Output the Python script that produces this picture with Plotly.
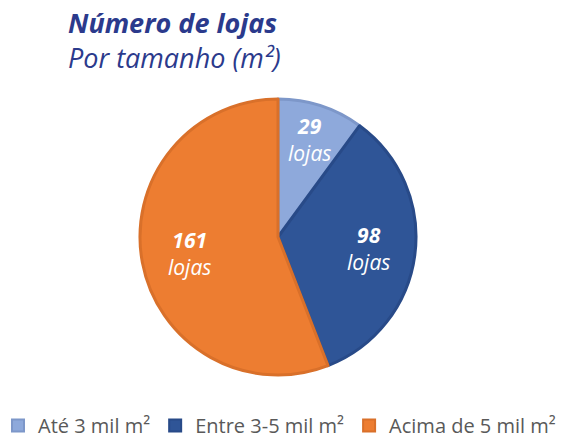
import math
import plotly.graph_objects as go

categories = ["Até 3 mil m²", "Entre 3-5 mil m²", "Acima de 5 mil m²"]
values = [29, 98, 161]
colors = ["#8EA9DB", "#2F5597", "#ED7D31"]
line_colors = ["#7D97C9", "#284A88", "#D9702A"]
label_radius = [0.74, 0.66, 0.65]  # fraction of pie radius for label placement

# page has an 8px body margin; compensate so the picture lines up
OFF = 8
W, H = 583 - OFF, 439 - OFF
cx, cy, R = 278 - OFF, 237 - OFF, 138  # pie centre / radius in px

fig = go.Figure(go.Pie(
    labels=categories,
    values=values,
    sort=False,
    direction="clockwise",
    rotation=0,
    textinfo="none",
    marker=dict(colors=colors, line=dict(color=line_colors, width=3)),
    domain=dict(x=[(cx - R) / W, (cx + R) / W], y=[1 - (cy + R) / H, 1 - (cy - R) / H]),
    hoverinfo="label+value",
))

total = sum(values)
start = 0.0
for v, rf in zip(values, label_radius):
    mid = (start + v / 2) / total * 2 * math.pi
    start += v
    px = cx + rf * R * math.sin(mid)
    py = cy - rf * R * math.cos(mid)
    fig.add_annotation(
        x=px / W, y=1 - py / H, xref="paper", yref="paper",
        text=f"<b><i>{v}</i></b><br><i>lojas</i>", showarrow=False,
        font=dict(family="Open Sans", size=21, color="white"),
        xanchor="center", yanchor="middle",
    )

fig.add_annotation(
    x=(66 - OFF) / W, y=1 - (40 - OFF) / H, xref="paper", yref="paper",
    text="<b><i>Número de lojas</i></b><br><i>Por tamanho (m²)</i>", showarrow=False,
    xanchor="left", yanchor="middle", align="left",
    font=dict(family="Open Sans", size=27, color="#2B3A8C"),
)

fig.update_layout(
    width=W, height=H,
    margin=dict(l=0, r=0, t=0, b=0, autoexpand=False),
    paper_bgcolor="white",
    plot_bgcolor="white",
    legend=dict(
        orientation="h",
        x=-10 / W, xanchor="left",
        y=-0.014, yanchor="bottom",
        font=dict(family="Open Sans", size=20, color="#595959"),
        itemsizing="constant",
        traceorder="normal",
    ),
)

fig.write_html("out.html")
